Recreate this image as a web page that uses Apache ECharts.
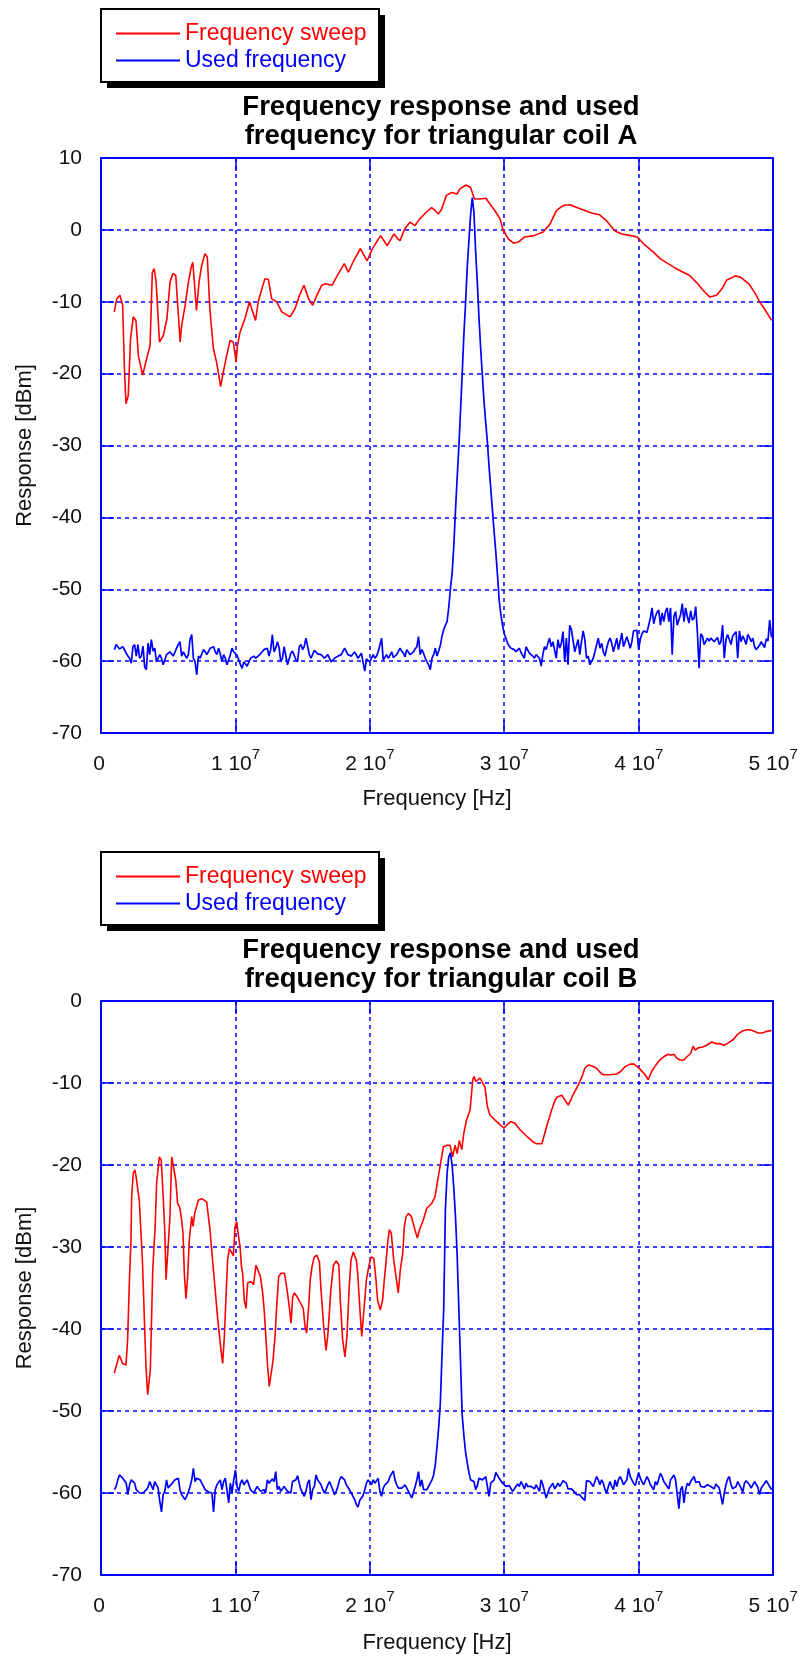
<!DOCTYPE html>
<html>
<head>
<meta charset="utf-8">
<script src="https://cdn.jsdelivr.net/npm/echarts@6/dist/echarts.min.js"></script>
<style>
html,body{margin:0;padding:0;background:#fff;}
#chart{width:801px;height:1656px;}
</style>
</head>
<body>
<div id="chart"></div>
<script>
// ---------- DATA ----------
const seriesNames = ['Frequency sweep', 'Used frequency'];
const titleA = 'Frequency response and used\nfrequency for triangular coil A';
const titleB = 'Frequency response and used\nfrequency for triangular coil B';
const xTickLabels = ['0', '1 10^7', '2 10^7', '3 10^7', '4 10^7', '5 10^7']; // x in MHz: 0..50
const xName = 'Frequency [Hz]';
const yName = 'Response [dBm]';

// Frequency sweep, coil A: [MHz, dBm]
const sweepA = [[0.99,-11.4],[1.17,-9.6],[1.41,-9.1],[1.61,-10.5],[1.75,-19.7],[1.86,-24.2],[2.03,-23],[2.2,-15.1],[2.4,-12.1],[2.6,-12.6],
[2.78,-17.5],[3.1,-20.2],[3.4,-17.9],[3.65,-16.1],[3.82,-5.9],[3.95,-5.4],[4.1,-7.2],[4.35,-15.6],[4.64,-14.7],[4.9,-12.4],
[5.14,-7.2],[5.34,-6.1],[5.56,-6.3],[5.71,-10.5],[5.89,-15.6],[6.0,-13.3],[6.26,-10.5],[6.51,-7.2],[6.71,-5.2],[6.83,-4.5],
[6.93,-6.8],[7.1,-11.2],[7.3,-7.2],[7.49,-4.95],[7.74,-3.3],[7.91,-3.8],[8.1,-11],[8.36,-16.5],[8.6,-18.4],[8.9,-21.8],
[9.1,-19.8],[9.35,-17.5],[9.6,-15.4],[9.85,-15.6],[10.05,-18.4],[10.15,-16.1],[10.35,-14.2],[10.7,-12.4],[11.05,-10.0],[11.2,-10.9],
[11.5,-12.6],[11.7,-10.0],[11.97,-8.2],[12.2,-6.8],[12.45,-6.9],[12.7,-9.6],[13.07,-10.0],[13.45,-11.4],[14.07,-12.1],[14.45,-10.9],
[14.77,-9.1],[15.1,-7.7],[15.45,-9.6],[15.75,-10.5],[16.06,-9.1],[16.43,-7.7],[16.7,-7.5],[17.2,-7.7],[17.6,-6.3],[18.1,-4.7],
[18.4,-5.9],[18.8,-4.3],[19.3,-2.6],[19.8,-4.3],[20.2,-2.6],[20.8,-0.8],[21.3,-2.2],[21.8,-0.55],[22.1,-1.3],[22.25,-1.5],
[22.6,0.15],[22.99,1.07],[23.36,0.6],[23.7,1.5],[24.2,2.45],[24.6,3.1],[24.85,2.7],[25.1,2.2],[25.35,2.9],[25.7,4.8],
[26.1,5.2],[26.5,5.0],[26.7,5.7],[27.16,6.25],[27.5,5.9],[27.66,5.0],[27.8,4.3],[28.2,4.3],[28.64,4.4],[28.94,3.6],
[29.3,2.7],[29.7,1.5],[29.9,0.1],[30.3,-1.25],[30.7,-1.85],[31.05,-1.7],[31.5,-1.0],[32.2,-0.8],[32.9,-0.3],[33.4,0.8],
[33.9,2.7],[34.4,3.4],[34.9,3.5],[35.4,3.1],[36.0,2.7],[36.5,2.36],[37.1,2.1],[37.6,1.3],[38.2,-0.1],[38.7,-0.55],
[39.4,-0.8],[39.9,-1.0],[40.35,-1.9],[41.1,-3.1],[41.6,-4.0],[42.1,-4.6],[42.8,-5.4],[43.8,-6.35],[44.3,-7.3],[44.8,-8.4],
[45.3,-9.35],[45.8,-9.1],[46.2,-8.2],[46.55,-7.0],[47.2,-6.4],[47.6,-6.6],[48.2,-7.5],[48.7,-8.9],[49.0,-10.0],[49.5,-11.4],[49.9,-12.6]];

// Frequency sweep, coil B: [MHz, dBm]
const sweepB = [[0.99,-45.4],[1.12,-44.6],[1.36,-43.2],[1.61,-44.2],[1.86,-44.4],[1.98,-41.3],[2.1,-34.8],[2.23,-29.1],[2.28,-23.9],[2.4,-21],
[2.52,-20.6],[2.6,-21.3],[2.85,-24.3],[3.03,-30],[3.1,-32.4],[3.22,-38.5],[3.35,-44.6],[3.47,-48],[3.67,-45],[3.85,-32.8],
[3.97,-29.1],[4.02,-27.9],[4.14,-22.2],[4.34,-19],[4.48,-19.4],[4.64,-24.3],[4.75,-28.3],[4.84,-34],[4.95,-33.8],[5.03,-29],
[5.13,-26.3],[5.26,-19],[5.36,-18.8],[5.56,-21.8],[5.7,-24.7],[5.85,-25.1],[6.0,-26.7],[6.1,-28.3],[6.2,-33.2],[6.32,-36.3],
[6.45,-33.6],[6.57,-29.1],[6.62,-28.3],[6.75,-26.3],[6.85,-27.5],[6.97,-25.9],[7.24,-24.3],[7.49,-24.1],[7.86,-24.5],[8.11,-27.9],
[8.3,-31.6],[8.43,-34],[8.68,-38.7],[8.93,-42.6],[9.05,-44.2],[9.18,-40.9],[9.3,-36.1],[9.42,-31.6],[9.55,-30.2],[9.7,-30.6],
[9.85,-31.1],[9.97,-27.5],[10.1,-26.9],[10.2,-28.3],[10.35,-30],[10.45,-32.4],[10.54,-33.2],[10.66,-36.5],[10.79,-37.5],[10.91,-34.4],
[11.16,-34.2],[11.35,-34.6],[11.53,-32.2],[11.66,-32.4],[11.86,-33.6],[12.03,-35.6],[12.15,-37.9],[12.28,-41.3],[12.4,-44.6],[12.52,-47],
[12.7,-45],[12.8,-43.8],[12.95,-40.9],[13.07,-37.3],[13.22,-33.6],[13.4,-33.2],[13.65,-33.2],[13.84,-35.2],[14.01,-37.3],[14.14,-39.3],
[14.26,-36.1],[14.39,-35.6],[14.6,-36.1],[14.8,-36.7],[15.05,-37.5],[15.18,-39.7],[15.3,-40.5],[15.45,-37.3],[15.57,-34],[15.7,-32.4],
[15.87,-31.2],[16.07,-31],[16.25,-31.8],[16.37,-35.2],[16.57,-39.7],[16.74,-42.6],[16.87,-40.9],[17.0,-37.8],[17.1,-35.2],[17.3,-32.2],
[17.5,-31.7],[17.7,-32.2],[17.8,-36.3],[17.98,-41.3],[18.15,-43.4],[18.3,-40.9],[18.47,-34.8],[18.6,-31.6],[18.77,-30.6],[19.0,-31.6],
[19.1,-33.2],[19.25,-37.3],[19.4,-40.9],[19.5,-38.9],[19.75,-34],[19.92,-32.4],[20.1,-31.2],[20.3,-31.4],[20.46,-34],[20.58,-36.5],
[20.78,-37.7],[20.95,-36.5],[21.08,-34],[21.2,-32],[21.33,-29.5],[21.45,-27.9],[21.6,-28.3],[21.78,-31.6],[21.95,-33.6],[22.12,-35.6],
[22.27,-32.8],[22.45,-30.8],[22.57,-27.5],[22.7,-26.3],[22.87,-25.9],[23.1,-26.3],[23.36,-27.9],[23.54,-28.9],[23.7,-27.9],[23.98,-26.7],
[24.23,-25.3],[24.6,-24.7],[24.85,-23.9],[25.1,-21.4],[25.27,-19.8],[25.47,-17.8],[25.72,-17.6],[25.97,-17.6],[26.17,-19],[26.34,-17.6],
[26.5,-18.6],[26.66,-17],[26.84,-18.1],[27.0,-16.1],[27.2,-14.5],[27.46,-13.3],[27.66,-9.6],[27.75,-9.2],[27.9,-9.8],[28.2,-9.4],
[28.57,-10.5],[28.75,-12.9],[28.94,-13.9],[29.3,-14.5],[29.7,-15.1],[29.99,-15.5],[30.2,-15.1],[30.48,-14.7],[30.8,-14.9],[31.18,-15.7],
[31.68,-16.5],[32.17,-17.2],[32.4,-17.4],[32.8,-17.4],[33.16,-15.3],[33.53,-13.3],[33.78,-12.1],[33.95,-11.7],[34.28,-11.5],[34.53,-12.1],
[34.77,-12.7],[34.95,-12.1],[35.1,-11.5],[35.4,-10.6],[35.64,-9.8],[35.84,-9.0],[36.0,-8.2],[36.26,-7.8],[36.5,-7.9],[36.88,-8.2],
[37.08,-8.6],[37.37,-9.0],[37.87,-9.0],[38.37,-8.9],[38.67,-8.6],[39.0,-8.0],[39.36,-7.7],[39.66,-7.7],[39.9,-8.0],[40.16,-8.4],
[40.48,-9.0],[40.72,-9.6],[40.97,-8.6],[41.2,-8.0],[41.47,-7.4],[41.72,-7.0],[41.96,-6.7],[42.2,-6.5],[42.46,-6.6],[42.63,-6.5],
[42.8,-6.9],[43.08,-7.2],[43.37,-7.2],[43.6,-6.8],[43.87,-6.4],[44.07,-5.5],[44.2,-6.0],[44.45,-5.7],[44.77,-5.6],[45.07,-5.4],
[45.44,-5.0],[45.77,-5.2],[46.06,-5.2],[46.36,-5.4],[46.68,-5.1],[47.05,-4.7],[47.35,-4.1],[47.67,-3.7],[48.05,-3.5],[48.3,-3.5],
[48.6,-3.7],[48.9,-3.9],[49.2,-3.9],[49.55,-3.7],[49.9,-3.6]];

// Used frequency: sampled on a regular frequency grid (MHz), 1.0 .. 50.0
const usedStartMHz = 1.0;
const usedStepMHz = 0.125;
const usedA = [-58.4,-57.7,-57.8,-58.3,-58.2,-58.0,-58.1,-58.9,-59.3,-59.6,
-60.3,-58.0,-57.7,-59.3,-57.7,-59.6,-59.3,-57.9,-60.8,-61.2,
-57.5,-59.1,-57.0,-58.6,-58.2,-60.1,-59.6,-59.1,-59.6,-60.5,
-60.5,-59.1,-59.3,-58.7,-58.9,-59.3,-59.1,-58.2,-57.7,-57.3,
-59.3,-58.7,-58.9,-59.6,-59.1,-57.0,-56.3,-59.6,-60.1,-61.9,
-59.3,-59.6,-59.6,-58.4,-58.7,-59.1,-58.9,-58.2,-58.1,-58.0,
-58.7,-59.1,-58.2,-59.0,-60.1,-59.1,-59.6,-60.5,-60.3,-59.1,
-58.2,-58.7,-58.9,-59.2,-59.8,-60.5,-61.0,-60.1,-60.1,-60.7,
-60.5,-59.6,-59.5,-59.3,-59.6,-59.6,-59.2,-59.1,-58.7,-58.4,
-58.3,-58.2,-59.3,-58.4,-56.3,-58.7,-58.2,-57.3,-58.1,-60.1,
-59.6,-58.0,-58.0,-60.5,-60.5,-58.9,-58.6,-58.4,-59.8,-60.1,
-58.0,-57.7,-58.4,-57.9,-56.8,-57.0,-59.1,-59.6,-59.5,-58.5,
-58.6,-59.0,-58.9,-59.1,-59.2,-59.6,-59.6,-59.1,-59.2,-60.1,
-60.0,-59.6,-59.6,-59.3,-59.2,-59.1,-59.0,-58.2,-58.4,-59.1,
-59.1,-59.3,-59.2,-58.7,-58.8,-59.6,-59.5,-58.9,-59.0,-61.4,
-59.7,-59.8,-60.1,-60.0,-59.1,-59.6,-59.3,-58.7,-58.5,-56.8,
-59.8,-59.6,-59.1,-59.6,-59.2,-58.7,-59.5,-59.6,-59.1,-58.9,
-58.2,-58.6,-58.9,-59.4,-58.4,-58.2,-59.1,-59.3,-58.7,-58.3,
-58.0,-56.6,-59.1,-58.4,-58.9,-59.6,-60.1,-60.5,-61.2,-59.6,
-59.1,-58.2,-59.3,-58.6,-57.8,-56.5,-55.6,-55.0,-54.5,-52.5,
-49.9,-47.8,-44.0,-39.0,-34.5,-30.2,-25.2,-20.0,-14.6,-10.2,
-5.2,-1.5,2.1,4.5,2.4,-3.0,-7.3,-12.3,-16.5,-20.3,
-23.9,-26.8,-29.5,-33.0,-36.0,-39.0,-42.0,-44.8,-48.0,-51.5,
-53.5,-55.0,-56.2,-56.8,-57.5,-57.9,-58.2,-58.4,-58.4,-58.7,
-58.7,-58.2,-58.8,-59.0,-59.6,-58.0,-58.2,-58.9,-59.1,-59.3,
-59.6,-59.1,-59.2,-59.6,-60.7,-59.1,-58.0,-58.4,-57.5,-56.8,
-58.0,-57.3,-57.5,-59.6,-57.0,-58.2,-57.5,-55.9,-60.1,-56.8,
-60.5,-55.0,-55.6,-55.8,-58.7,-58.7,-57.0,-59.1,-57.3,-55.8,
-57.0,-59.6,-59.3,-60.5,-60.3,-59.6,-58.7,-57.7,-56.8,-58.2,
-57.5,-58.7,-59.3,-58.2,-57.3,-56.8,-57.5,-58.7,-57.8,-56.8,
-58.4,-57.3,-56.1,-58.0,-57.3,-56.6,-56.4,-58.2,-57.3,-55.8,
-56.0,-55.7,-58.4,-57.0,-56.2,-55.8,-55.8,-56.0,-55.0,-54.0,
-52.6,-54.8,-53.8,-53.2,-52.9,-55.0,-53.3,-54.5,-53.1,-52.6,
-54.5,-52.6,-59.1,-53.8,-53.1,-55.0,-55.2,-53.5,-52.0,-54.5,
-52.6,-53.8,-54.7,-53.0,-54.3,-54.0,-52.4,-56.0,-61.0,-56.2,
-56.5,-57.7,-57.5,-56.8,-57.2,-56.8,-56.8,-57.3,-57.0,-56.7,
-57.7,-57.3,-55.0,-59.6,-57.0,-56.3,-56.1,-57.7,-56.5,-56.6,
-55.9,-59.6,-55.8,-57.3,-56.5,-57.0,-57.7,-56.3,-56.7,-57.3,
-56.8,-58.0,-58.4,-58.6,-57.8,-57.3,-57.4,-58.1,-56.9,-57.2,
-54.3,-56.5,-56.8];
const usedB = [-59.6,-59.2,-58.4,-57.8,-58.0,-58.2,-58.4,-58.8,-60.2,-59.0,
-58.4,-58.4,-58.8,-59.6,-59.8,-60.0,-60.0,-60.0,-59.9,-59.6,
-59.3,-58.6,-58.4,-59.6,-58.6,-58.8,-59.4,-61.0,-62.3,-60.2,
-59.8,-58.4,-59.4,-59.2,-58.9,-58.8,-58.4,-58.2,-58.2,-59.6,
-60.2,-60.4,-60.8,-60.4,-59.9,-59.2,-58.4,-57.0,-58.6,-58.2,
-58.0,-58.4,-58.8,-59.2,-59.6,-59.8,-59.9,-60.0,-60.0,-62.3,
-59.6,-59.0,-59.2,-58.4,-59.6,-58.6,-58.2,-58.0,-61.2,-58.8,
-60.0,-58.4,-57.2,-59.2,-59.8,-58.8,-58.4,-59.0,-59.2,-58.4,
-58.2,-59.6,-59.4,-60.0,-60.2,-59.2,-59.3,-59.8,-60.0,-59.6,
-60.0,-58.4,-58.8,-59.0,-58.3,-58.6,-57.4,-59.6,-59.2,-59.8,
-59.6,-59.2,-59.0,-59.8,-59.6,-60.0,-58.6,-58.6,-58.4,-57.9,
-58.8,-59.6,-59.6,-60.4,-59.8,-58.8,-58.4,-60.8,-59.6,-59.2,
-57.8,-58.4,-58.6,-59.0,-59.6,-60.0,-59.6,-59.0,-58.6,-58.4,
-59.6,-60.2,-59.8,-59.2,-58.4,-58.0,-57.8,-58.4,-59.0,-59.3,
-59.4,-60.0,-60.4,-60.8,-61.4,-61.7,-60.9,-60.6,-60.3,-59.6,
-58.8,-58.4,-58.6,-59.0,-58.4,-58.8,-58.6,-58.2,-59.8,-60.4,
-59.4,-59.0,-58.8,-58.6,-58.0,-57.8,-57.3,-58.4,-59.0,-59.4,
-59.2,-59.4,-59.6,-59.0,-58.8,-59.8,-60.2,-60.6,-60.5,-59.2,
-58.4,-57.4,-59.2,-58.4,-59.6,-59.6,-59.6,-59.4,-58.8,-58.4,
-57.8,-56.5,-54.4,-52.0,-49.0,-43.0,-37.5,-25.5,-21.0,-19.0,
-18.5,-20.0,-22.8,-26.3,-31.0,-37.5,-44.0,-50.5,-53.0,-55.0,
-56.3,-57.5,-58.4,-58.4,-58.6,-59.6,-59.1,-58.2,-58.1,-58.4,
-58.2,-58.0,-57.8,-60.4,-58.8,-58.8,-58.4,-57.5,-57.3,-58.2,
-58.4,-58.8,-58.9,-59.2,-59.0,-59.1,-59.3,-59.8,-59.7,-59.2,
-58.9,-59.2,-58.6,-59.0,-59.5,-58.8,-59.2,-59.3,-59.2,-59.2,
-59.5,-59.0,-59.0,-59.8,-58.4,-59.0,-59.8,-60.6,-60.0,-59.4,
-59.1,-58.8,-59.5,-59.2,-58.8,-59.2,-58.9,-58.5,-58.3,-58.8,
-59.5,-59.4,-59.5,-59.6,-59.9,-60.2,-60.0,-60.2,-60.5,-60.6,
-60.9,-58.5,-58.6,-58.6,-58.4,-59.2,-59.4,-58.0,-58.4,-59.0,
-58.4,-58.8,-59.6,-60.0,-59.2,-58.6,-59.2,-59.6,-58.4,-59.2,
-58.4,-58.0,-58.4,-59.0,-58.7,-58.4,-57.0,-58.0,-58.0,-58.8,
-59.1,-59.2,-57.5,-58.2,-58.3,-59.0,-59.1,-58.0,-58.4,-59.0,
-59.3,-59.6,-58.6,-59.0,-59.0,-57.6,-58.0,-58.6,-58.9,-59.2,
-59.5,-58.4,-58.3,-57.8,-58.4,-58.6,-61.9,-59.6,-59.2,-61.2,
-59.6,-58.8,-59.1,-58.6,-58.3,-58.0,-58.7,-58.6,-58.6,-59.2,
-59.2,-59.3,-59.5,-59.0,-58.9,-59.2,-59.4,-59.5,-58.9,-59.0,
-59.4,-59.6,-61.4,-60.0,-59.0,-58.3,-58.0,-59.0,-59.5,-59.4,
-59.2,-58.6,-58.6,-59.4,-59.9,-58.8,-58.5,-58.5,-59.0,-59.4,
-59.6,-58.6,-58.8,-59.3,-60.2,-59.4,-59.1,-58.8,-58.5,-58.6,
-59.2,-59.5,-59.6];

// ---------- BUILD ----------
const FONT = '"Liberation Sans", Arial, sans-serif';
const RED = '#ff0000', BLUE = '#0000ff';
function gridded(vals) { return vals.map((v, i) => [usedStartMHz + i * usedStepMHz, v]); }
function xLabel(value) {
  const idx = Math.round(value / 10);
  const t = xTickLabels[idx];
  if (t === undefined) return '';
  const parts = t.split('^');
  return '{h| }{n|' + parts[0] + '}{s|' + (parts[1] || ' ') + '}';
}

const axisLineStyle = { color: BLUE, width: 2 };
const tickCfg = { show: true, inside: true, length: 13, lineStyle: { color: BLUE, width: 1.5 } };
const splitCfg = { show: true, lineStyle: { color: BLUE, width: 1.5, type: [4, 4] } };

function xAxes(grid, gap) {
  return [{
    type: 'value', gridIndex: grid, position: 'bottom', min: 0, max: 50, interval: 10,
    axisLine: { show: true, onZero: false, lineStyle: axisLineStyle },
    axisTick: tickCfg, splitLine: splitCfg,
    axisLabel: {
      show: true, margin: 14, showMinLabel: true, showMaxLabel: true, formatter: xLabel, color: '#111',
      rich: {
        h: { fontSize: 1, lineHeight: 28, fontFamily: FONT, verticalAlign: 'top' },
        n: { fontSize: 21, lineHeight: 21, fontFamily: FONT, color: '#111', verticalAlign: 'bottom' },
        s: { fontSize: 15, lineHeight: 15, fontFamily: FONT, color: '#111', verticalAlign: 'top' }
      }
    },
    name: xName, nameLocation: 'middle', nameGap: gap,
    nameTextStyle: { fontSize: 22, lineHeight: 22, fontFamily: FONT, color: '#111' }
  }, {
    type: 'value', gridIndex: grid, position: 'top', min: 0, max: 50, interval: 10,
    axisLine: { show: true, onZero: false, lineStyle: axisLineStyle },
    axisTick: tickCfg, splitLine: { show: false }, axisLabel: { show: false }
  }];
}
function yAxes(grid, max) {
  return [{
    type: 'value', gridIndex: grid, position: 'left', min: -70, max: max, interval: 10,
    axisLine: { show: true, onZero: false, lineStyle: axisLineStyle },
    axisTick: tickCfg, splitLine: splitCfg,
    axisLabel: { show: true, margin: 19, fontSize: 21, fontFamily: FONT, color: '#111', showMinLabel: true, showMaxLabel: true },
    name: yName, nameLocation: 'middle', nameGap: 65,
    nameTextStyle: { fontSize: 22, lineHeight: 22, fontFamily: FONT, color: '#111' }
  }, {
    type: 'value', gridIndex: grid, position: 'right', min: -70, max: max, interval: 10,
    axisLine: { show: true, onZero: false, lineStyle: axisLineStyle },
    axisTick: tickCfg, splitLine: { show: false }, axisLabel: { show: false }
  }];
}
function legendCfg(top) {
  return {
    orient: 'vertical', left: 101, top: top, z: 20,
    itemWidth: 64, itemHeight: 2, icon: 'rect', itemGap: 0,
    padding: [11, 12, 8, 15],
    backgroundColor: 'transparent', borderWidth: 0,
    selectedMode: false,
    textStyle: { fontSize: 23, lineHeight: 27, fontFamily: FONT },
    data: [
      { name: seriesNames[0], textStyle: { color: RED } },
      { name: seriesNames[1], textStyle: { color: BLUE } }
    ]
  };
}
function legendBox(top) {
  return [
    { type: 'rect', z: 1, shape: { x: 107, y: top + 6, width: 278, height: 73 }, style: { fill: '#000' } },
    { type: 'rect', z: 2, shape: { x: 101, y: top, width: 278, height: 73 }, style: { fill: '#fff', stroke: '#000', lineWidth: 2 } }
  ];
}
function titleGraphic(text, y) {
  return {
    type: 'text', x: 441, y: y, z: 10,
    style: { text: text, fill: '#000', fontSize: 27.5, fontWeight: 'bold', fontFamily: FONT,
             align: 'center', verticalAlign: 'top', lineHeight: 29 }
  };
}
function lineSeries(name, data, color, width, xi, yi, z) {
  return {
    type: 'line', name: name, data: data, xAxisIndex: xi, yAxisIndex: yi,
    showSymbol: false, symbol: 'none', smooth: false, clip: true, z: z,
    color: color, itemStyle: { color: color },
    lineStyle: { color: color, width: width }
  };
}

const chart = echarts.init(document.getElementById('chart'), null, { renderer: 'canvas', width: 801, height: 1656 });
chart.setOption({
  animation: false,
  backgroundColor: '#fff',
  graphic: [].concat(legendBox(9), legendBox(852), [titleGraphic(titleA, 93), titleGraphic(titleB, 936)]),
  legend: [legendCfg(9), legendCfg(852)],
  grid: [
    { left: 101, top: 158, width: 672, height: 575 },
    { left: 101, top: 1001, width: 672, height: 574 }
  ],
  xAxis: [].concat(xAxes(0, 55), xAxes(1, 57)),
  yAxis: [].concat(yAxes(0, 10), yAxes(1, 0)),
  series: [
    lineSeries(seriesNames[0], sweepA, RED, 1.6, 0, 0, 2),
    lineSeries(seriesNames[1], gridded(usedA), BLUE, 1.7, 0, 0, 3),
    lineSeries(seriesNames[0], sweepB, RED, 1.6, 2, 2, 2),
    lineSeries(seriesNames[1], gridded(usedB), BLUE, 1.7, 2, 2, 3)
  ]
});
</script>
</body>
</html>
